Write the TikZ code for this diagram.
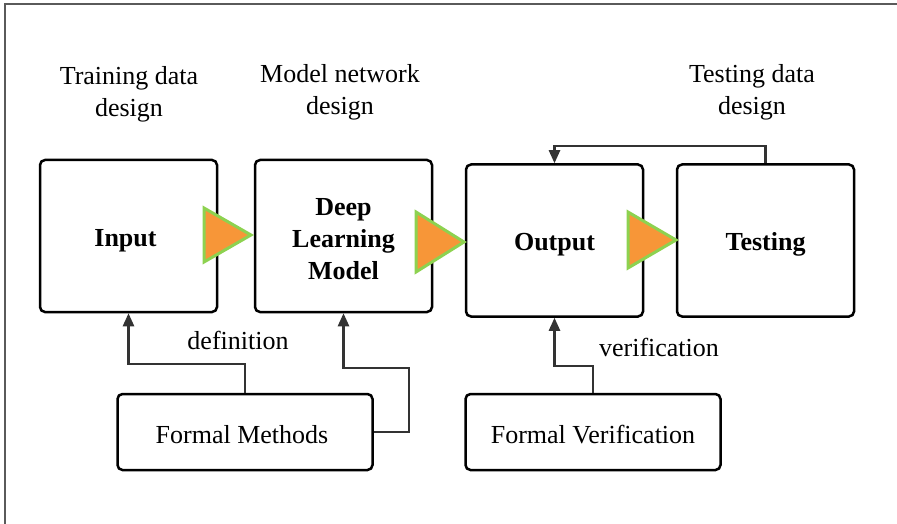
\documentclass[tikz,border=0pt]{standalone}
\usepackage{fontspec}
\setmainfont{Liberation Serif}
\usetikzlibrary{arrows.meta}
\definecolor{tipfill}{RGB}{247,150,56}
\definecolor{tipedge}{RGB}{141,210,80}
\definecolor{linegray}{RGB}{51,51,51}
\definecolor{framegray}{RGB}{90,90,90}
\tikzset{
  stage/.style={draw=black, line width=2.5pt, rounded corners=5pt,
    minimum width=177pt, minimum height=152pt},
  method/.style={draw=black, line width=2.5pt, rounded corners=5pt,
    minimum width=255pt, minimum height=76pt},
  boldtext/.style={align=center, font=\fontsize{26}{32}\selectfont\bfseries},
  plaintext/.style={align=center, font=\fontsize{26}{32}\selectfont},
  caption/.style={align=center, font=\fontsize{26}{32}\selectfont},
  conn/.style={draw=linegray, line width=2.4pt,
    -{Triangle[length=13pt,width=11pt]}},
  flowtip/.style={fill=tipfill, draw=tipedge, line width=3pt, line join=miter},
}
\begin{document}
\begin{tikzpicture}[x=1pt, y=-1pt]
\useasboundingbox (0,0) rectangle (897,524);
% outer frame (top and left edges)
\draw[draw=framegray, line width=2pt] (5,524) -- (5,4) -- (897,4);

% main stages
\node[stage, label={[boldtext, xshift=-3pt, yshift=-4.8pt]center:Input}] (input) at (128.5,236) {};
\node[stage, label={[boldtext, yshift=-3pt]center:Deep\\Learning\\Model}] (dlmodel) at (343.5,236) {};
\node[stage, label={[boldtext, yshift=-4.3pt]center:Output}] (output) at (554.5,240.5) {};
\node[stage, label={[boldtext, yshift=-4.3pt]center:Testing}] (testing) at (765.5,240.5) {};

% formal method boxes
\node[method, label={[plaintext, xshift=-3pt, yshift=-3pt]center:Formal Methods}] (fm) at (245,432) {};
\node[method, label={[plaintext, yshift=-3pt]center:Formal Verification}] (fv) at (593,432) {};

% captions above the stages
\node[caption] (c1) at (129,94.5) {Training data\\design};
\node[caption] (c2) at (340,92) {Model network\\design};
\node[caption] (c3) at (752,92) {Testing data\\design};
\node[caption] (l1) at (238,340) {definition};
\node[caption] (l2) at (659,347) {verification};

% flow markers between stages
\draw[flowtip] (204,208) -- (204,262) -- (251,235) -- cycle;
\draw[flowtip] (416,212) -- (416,272) -- (464,242) -- cycle;
\draw[flowtip] (628,212) -- (628,268) -- (676,240) -- cycle;

% connectors
\coordinate (d1) at (245,364);
\draw[conn] (fm.north) -- (d1) -| (input.south);
\coordinate (m1) at (409,368);
\draw[conn] (fm.east) -| (m1) -| (dlmodel.south);
\coordinate (v1) at (593,366);
\draw[conn] (fv.north) -- (v1) -| (output.south);
\coordinate (t1) at (765.5,146);
\draw[conn] (testing.north) -- (t1) -| (output.north);
\end{tikzpicture}
\end{document}
